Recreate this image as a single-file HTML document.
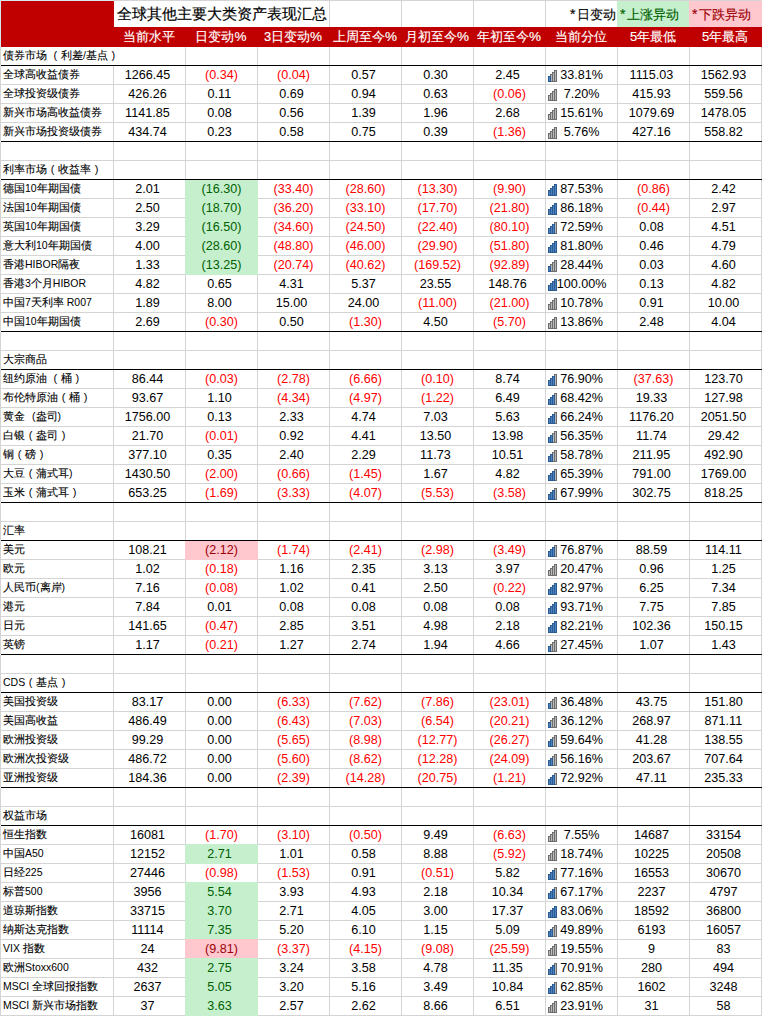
<!DOCTYPE html>
<html><head><meta charset="utf-8"><style>
html,body{margin:0;padding:0;background:#fff;}
body{width:762px;height:1016px;position:relative;overflow:hidden;font-family:"Liberation Sans",sans-serif;}
.r{position:absolute;}
.t{position:absolute;height:0;white-space:nowrap;line-height:0;}
.t .b{display:inline-block;vertical-align:baseline;line-height:0;}
.num{font-size:12.6px;color:#000;}
.name{color:#000;}
.name .c{font-size:11px;-webkit-text-stroke:0.12px currentColor;}
.name .l{font-size:10.5px;}
.head{font-size:13px;-webkit-text-stroke:0.15px currentColor;}
.pc{font-style:normal;font-size:13.5px;}
.st{font-style:normal;margin-right:1.5px;font-size:14px;}
.note{font-size:12.7px;color:#000;-webkit-text-stroke:0.15px currentColor;}
.title{font-size:14.8px;color:#000;-webkit-text-stroke:0.2px currentColor;}
.h{visibility:hidden;font-style:normal;}
.sp{display:inline-block;width:7px;}
.p{display:inline-block;width:11px;text-align:center;font-weight:normal;font-size:11px;-webkit-text-stroke:0;}
</style></head>
<body>
<div class="r" style="left:0px;top:0px;width:1px;height:1016px;background:#d4d4d4;"></div><div class="r" style="left:113px;top:0px;width:1px;height:1016px;background:#d4d4d4;"></div><div class="r" style="left:185px;top:0px;width:1px;height:1016px;background:#d4d4d4;"></div><div class="r" style="left:257px;top:0px;width:1px;height:1016px;background:#d4d4d4;"></div><div class="r" style="left:329px;top:0px;width:1px;height:1016px;background:#d4d4d4;"></div><div class="r" style="left:401px;top:0px;width:1px;height:1016px;background:#d4d4d4;"></div><div class="r" style="left:473px;top:0px;width:1px;height:1016px;background:#d4d4d4;"></div><div class="r" style="left:545px;top:0px;width:1px;height:1016px;background:#d4d4d4;"></div><div class="r" style="left:617px;top:0px;width:1px;height:1016px;background:#d4d4d4;"></div><div class="r" style="left:689px;top:0px;width:1px;height:1016px;background:#d4d4d4;"></div><div class="r" style="left:761px;top:0px;width:1px;height:1016px;background:#d4d4d4;"></div><div class="r" style="left:0px;top:0px;width:762px;height:1px;background:#d4d4d4;"></div><div class="r" style="left:0px;top:65px;width:762px;height:1px;background:#d4d4d4;"></div><div class="r" style="left:0px;top:84px;width:762px;height:1px;background:#d4d4d4;"></div><div class="r" style="left:0px;top:103px;width:762px;height:1px;background:#d4d4d4;"></div><div class="r" style="left:0px;top:122px;width:762px;height:1px;background:#d4d4d4;"></div><div class="r" style="left:0px;top:141px;width:762px;height:1px;background:#d4d4d4;"></div><div class="r" style="left:0px;top:160px;width:762px;height:1px;background:#d4d4d4;"></div><div class="r" style="left:0px;top:179px;width:762px;height:1px;background:#d4d4d4;"></div><div class="r" style="left:0px;top:198px;width:762px;height:1px;background:#d4d4d4;"></div><div class="r" style="left:0px;top:217px;width:762px;height:1px;background:#d4d4d4;"></div><div class="r" style="left:0px;top:236px;width:762px;height:1px;background:#d4d4d4;"></div><div class="r" style="left:0px;top:255px;width:762px;height:1px;background:#d4d4d4;"></div><div class="r" style="left:0px;top:274px;width:762px;height:1px;background:#d4d4d4;"></div><div class="r" style="left:0px;top:293px;width:762px;height:1px;background:#d4d4d4;"></div><div class="r" style="left:0px;top:312px;width:762px;height:1px;background:#d4d4d4;"></div><div class="r" style="left:0px;top:331px;width:762px;height:1px;background:#d4d4d4;"></div><div class="r" style="left:0px;top:350px;width:762px;height:1px;background:#d4d4d4;"></div><div class="r" style="left:0px;top:369px;width:762px;height:1px;background:#d4d4d4;"></div><div class="r" style="left:0px;top:388px;width:762px;height:1px;background:#d4d4d4;"></div><div class="r" style="left:0px;top:407px;width:762px;height:1px;background:#d4d4d4;"></div><div class="r" style="left:0px;top:426px;width:762px;height:1px;background:#d4d4d4;"></div><div class="r" style="left:0px;top:445px;width:762px;height:1px;background:#d4d4d4;"></div><div class="r" style="left:0px;top:464px;width:762px;height:1px;background:#d4d4d4;"></div><div class="r" style="left:0px;top:483px;width:762px;height:1px;background:#d4d4d4;"></div><div class="r" style="left:0px;top:502px;width:762px;height:1px;background:#d4d4d4;"></div><div class="r" style="left:0px;top:521px;width:762px;height:1px;background:#d4d4d4;"></div><div class="r" style="left:0px;top:540px;width:762px;height:1px;background:#d4d4d4;"></div><div class="r" style="left:0px;top:559px;width:762px;height:1px;background:#d4d4d4;"></div><div class="r" style="left:0px;top:578px;width:762px;height:1px;background:#d4d4d4;"></div><div class="r" style="left:0px;top:597px;width:762px;height:1px;background:#d4d4d4;"></div><div class="r" style="left:0px;top:616px;width:762px;height:1px;background:#d4d4d4;"></div><div class="r" style="left:0px;top:635px;width:762px;height:1px;background:#d4d4d4;"></div><div class="r" style="left:0px;top:654px;width:762px;height:1px;background:#d4d4d4;"></div><div class="r" style="left:0px;top:673px;width:762px;height:1px;background:#d4d4d4;"></div><div class="r" style="left:0px;top:692px;width:762px;height:1px;background:#d4d4d4;"></div><div class="r" style="left:0px;top:711px;width:762px;height:1px;background:#d4d4d4;"></div><div class="r" style="left:0px;top:730px;width:762px;height:1px;background:#d4d4d4;"></div><div class="r" style="left:0px;top:749px;width:762px;height:1px;background:#d4d4d4;"></div><div class="r" style="left:0px;top:768px;width:762px;height:1px;background:#d4d4d4;"></div><div class="r" style="left:0px;top:787px;width:762px;height:1px;background:#d4d4d4;"></div><div class="r" style="left:0px;top:806px;width:762px;height:1px;background:#d4d4d4;"></div><div class="r" style="left:0px;top:825px;width:762px;height:1px;background:#d4d4d4;"></div><div class="r" style="left:0px;top:844px;width:762px;height:1px;background:#d4d4d4;"></div><div class="r" style="left:0px;top:863px;width:762px;height:1px;background:#d4d4d4;"></div><div class="r" style="left:0px;top:882px;width:762px;height:1px;background:#d4d4d4;"></div><div class="r" style="left:0px;top:901px;width:762px;height:1px;background:#d4d4d4;"></div><div class="r" style="left:0px;top:920px;width:762px;height:1px;background:#d4d4d4;"></div><div class="r" style="left:0px;top:939px;width:762px;height:1px;background:#d4d4d4;"></div><div class="r" style="left:0px;top:958px;width:762px;height:1px;background:#d4d4d4;"></div><div class="r" style="left:0px;top:977px;width:762px;height:1px;background:#d4d4d4;"></div><div class="r" style="left:0px;top:996px;width:762px;height:1px;background:#d4d4d4;"></div><div class="r" style="left:0px;top:1015px;width:762px;height:1px;background:#d4d4d4;"></div><div class="r" style="left:0px;top:0px;width:114px;height:1px;background:#d5eaea;"></div><div class="r" style="left:0px;top:0px;width:1px;height:47px;background:#d5eaea;"></div><div class="r" style="left:1px;top:1px;width:113px;height:26px;background:#c00000;"></div><div class="r" style="left:114px;top:1px;width:215px;height:26px;background:#fff;"></div><div class="r" style="left:617px;top:1px;width:72px;height:26px;background:#c6efce;"></div><div class="r" style="left:689px;top:1px;width:73px;height:26px;background:#ffc7ce;"></div><div class="r" style="left:1px;top:27px;width:761px;height:20px;background:#c00000;"></div><div class="r" style="left:113px;top:47px;width:1px;height:18px;background:#fff;"></div><div class="r" style="left:185px;top:179px;width:73px;height:20px;background:#c6efce;"></div><div class="r" style="left:185px;top:198px;width:73px;height:20px;background:#c6efce;"></div><div class="r" style="left:185px;top:217px;width:73px;height:20px;background:#c6efce;"></div><div class="r" style="left:185px;top:236px;width:73px;height:20px;background:#c6efce;"></div><div class="r" style="left:185px;top:255px;width:73px;height:20px;background:#c6efce;"></div><div class="r" style="left:185px;top:540px;width:73px;height:20px;background:#ffc7ce;"></div><div class="r" style="left:185px;top:844px;width:73px;height:20px;background:#c6efce;"></div><div class="r" style="left:185px;top:882px;width:73px;height:20px;background:#c6efce;"></div><div class="r" style="left:185px;top:901px;width:73px;height:20px;background:#c6efce;"></div><div class="r" style="left:185px;top:920px;width:73px;height:20px;background:#c6efce;"></div><div class="r" style="left:185px;top:939px;width:73px;height:20px;background:#ffc7ce;"></div><div class="r" style="left:185px;top:958px;width:73px;height:20px;background:#c6efce;"></div><div class="r" style="left:185px;top:977px;width:73px;height:20px;background:#c6efce;"></div><div class="r" style="left:185px;top:996px;width:73px;height:20px;background:#c6efce;"></div><div class="r" style="left:1px;top:65px;width:761px;height:1px;background:#000;"></div><div class="r" style="left:0px;top:65px;width:1px;height:1px;background:#f0f0f0;"></div><div class="r" style="left:1px;top:141px;width:761px;height:1px;background:#000;"></div><div class="r" style="left:0px;top:141px;width:1px;height:1px;background:#f0f0f0;"></div><div class="r" style="left:1px;top:179px;width:761px;height:1px;background:#000;"></div><div class="r" style="left:0px;top:179px;width:1px;height:1px;background:#f0f0f0;"></div><div class="r" style="left:1px;top:331px;width:761px;height:1px;background:#000;"></div><div class="r" style="left:0px;top:331px;width:1px;height:1px;background:#f0f0f0;"></div><div class="r" style="left:1px;top:369px;width:761px;height:1px;background:#000;"></div><div class="r" style="left:0px;top:369px;width:1px;height:1px;background:#f0f0f0;"></div><div class="r" style="left:1px;top:502px;width:761px;height:1px;background:#000;"></div><div class="r" style="left:0px;top:502px;width:1px;height:1px;background:#f0f0f0;"></div><div class="r" style="left:1px;top:540px;width:761px;height:1px;background:#000;"></div><div class="r" style="left:0px;top:540px;width:1px;height:1px;background:#f0f0f0;"></div><div class="r" style="left:1px;top:654px;width:761px;height:1px;background:#000;"></div><div class="r" style="left:0px;top:654px;width:1px;height:1px;background:#f0f0f0;"></div><div class="r" style="left:1px;top:692px;width:761px;height:1px;background:#000;"></div><div class="r" style="left:0px;top:692px;width:1px;height:1px;background:#f0f0f0;"></div><div class="r" style="left:1px;top:787px;width:761px;height:1px;background:#000;"></div><div class="r" style="left:0px;top:787px;width:1px;height:1px;background:#f0f0f0;"></div><div class="r" style="left:1px;top:825px;width:761px;height:1px;background:#000;"></div><div class="r" style="left:0px;top:825px;width:1px;height:1px;background:#f0f0f0;"></div><div class="t title" style="left:117px;width:300px;top:14px;text-align:left;"><span class="b">全球其他主要大类资产表现汇总</span></div><div class="t note" style="left:546px;width:70px;top:14px;text-align:right;"><span class="b"><i class="st">*</i>日变动</span></div><div class="t note" style="left:620px;width:70px;top:14px;text-align:left;color:#006100;"><span class="b"><i class="st">*</i>上涨异动</span></div><div class="t note" style="left:692px;width:70px;top:14px;text-align:left;color:#9c0006;"><span class="b"><i class="st">*</i>下跌异动</span></div><div class="t head" style="left:113px;width:72px;top:37px;text-align:center;color:#fff;"><span class="b">当前水平</span></div><div class="t head" style="left:185px;width:72px;top:37px;text-align:center;color:#fff;"><span class="b">日变动<i class="pc">%</i></span></div><div class="t head" style="left:257px;width:72px;top:37px;text-align:center;color:#fff;"><span class="b">3日变动<i class="pc">%</i></span></div><div class="t head" style="left:329px;width:72px;top:37px;text-align:center;color:#fff;"><span class="b">上周至今<i class="pc">%</i></span></div><div class="t head" style="left:401px;width:72px;top:37px;text-align:center;color:#fff;"><span class="b">月初至今<i class="pc">%</i></span></div><div class="t head" style="left:473px;width:72px;top:37px;text-align:center;color:#fff;"><span class="b">年初至今<i class="pc">%</i></span></div><div class="t head" style="left:545px;width:72px;top:37px;text-align:center;color:#fff;"><span class="b">当前分位</span></div><div class="t head" style="left:617px;width:72px;top:37px;text-align:center;color:#fff;"><span class="b">5年最低</span></div><div class="t head" style="left:689px;width:72px;top:37px;text-align:center;color:#fff;"><span class="b">5年最高</span></div><div class="t name" style="left:3px;width:300px;top:54px;text-align:left;"><span class="b"><span class="c">债券市场</span><span class="l"> </span><span class="c"><b class="p">(</b>利差</span><span class="l">/</span><span class="c">基点<b class="p">)</b></span></span></div><div class="t name" style="left:3px;width:300px;top:73px;text-align:left;"><span class="b"><span class="c">全球高收益债券</span></span></div><div class="t num" style="left:114px;width:71px;top:75px;text-align:center;"><span class="b">1266.45<i class="h">)</i></span></div><div class="t num" style="left:186px;width:71px;top:75px;text-align:center;color:#ff0000;"><span class="b">(0.34)</span></div><div class="t num" style="left:258px;width:71px;top:75px;text-align:center;color:#ff0000;"><span class="b">(0.04)</span></div><div class="t num" style="left:330px;width:71px;top:75px;text-align:center;"><span class="b">0.57<i class="h">)</i></span></div><div class="t num" style="left:402px;width:71px;top:75px;text-align:center;"><span class="b">0.30<i class="h">)</i></span></div><div class="t num" style="left:474px;width:71px;top:75px;text-align:center;"><span class="b">2.45<i class="h">)</i></span></div><div class="t num" style="left:546px;width:71px;top:75px;text-align:center;"><span class="b">33.81%</span></div><div class="r" style="left:550px;top:74px;width:3px;height:8px;background:#6d6d6d"></div><div class="r" style="left:552px;top:72px;width:3px;height:10px;background:#6d6d6d"></div><div class="r" style="left:554px;top:70px;width:3px;height:12px;background:#6d6d6d"></div><div class="r" style="left:548px;top:76px;width:3px;height:6px;background:#2a5b92"></div><div class="r" style="left:549px;top:77px;width:1px;height:4px;background:#4f83bf"></div><div class="r" style="left:551px;top:75px;width:1px;height:6px;background:#b9b9b9"></div><div class="r" style="left:553px;top:73px;width:1px;height:8px;background:#b9b9b9"></div><div class="r" style="left:555px;top:71px;width:1px;height:10px;background:#b9b9b9"></div><div class="t num" style="left:618px;width:71px;top:75px;text-align:center;"><span class="b">1115.03<i class="h">)</i></span></div><div class="t num" style="left:690px;width:71px;top:75px;text-align:center;"><span class="b">1562.93<i class="h">)</i></span></div><div class="t name" style="left:3px;width:300px;top:92px;text-align:left;"><span class="b"><span class="c">全球投资级债券</span></span></div><div class="t num" style="left:114px;width:71px;top:94px;text-align:center;"><span class="b">426.26<i class="h">)</i></span></div><div class="t num" style="left:186px;width:71px;top:94px;text-align:center;"><span class="b">0.11<i class="h">)</i></span></div><div class="t num" style="left:258px;width:71px;top:94px;text-align:center;"><span class="b">0.69<i class="h">)</i></span></div><div class="t num" style="left:330px;width:71px;top:94px;text-align:center;"><span class="b">0.94<i class="h">)</i></span></div><div class="t num" style="left:402px;width:71px;top:94px;text-align:center;"><span class="b">0.63<i class="h">)</i></span></div><div class="t num" style="left:474px;width:71px;top:94px;text-align:center;color:#ff0000;"><span class="b">(0.06)</span></div><div class="t num" style="left:546px;width:71px;top:94px;text-align:center;"><span class="b">7.20%</span></div><div class="r" style="left:548px;top:95px;width:3px;height:6px;background:#6d6d6d"></div><div class="r" style="left:550px;top:93px;width:3px;height:8px;background:#6d6d6d"></div><div class="r" style="left:552px;top:91px;width:3px;height:10px;background:#6d6d6d"></div><div class="r" style="left:554px;top:89px;width:3px;height:12px;background:#6d6d6d"></div><div class="r" style="left:549px;top:96px;width:1px;height:4px;background:#b9b9b9"></div><div class="r" style="left:551px;top:94px;width:1px;height:6px;background:#b9b9b9"></div><div class="r" style="left:553px;top:92px;width:1px;height:8px;background:#b9b9b9"></div><div class="r" style="left:555px;top:90px;width:1px;height:10px;background:#b9b9b9"></div><div class="t num" style="left:618px;width:71px;top:94px;text-align:center;"><span class="b">415.93<i class="h">)</i></span></div><div class="t num" style="left:690px;width:71px;top:94px;text-align:center;"><span class="b">559.56<i class="h">)</i></span></div><div class="t name" style="left:3px;width:300px;top:111px;text-align:left;"><span class="b"><span class="c">新兴市场高收益债券</span></span></div><div class="t num" style="left:114px;width:71px;top:113px;text-align:center;"><span class="b">1141.85<i class="h">)</i></span></div><div class="t num" style="left:186px;width:71px;top:113px;text-align:center;"><span class="b">0.08<i class="h">)</i></span></div><div class="t num" style="left:258px;width:71px;top:113px;text-align:center;"><span class="b">0.56<i class="h">)</i></span></div><div class="t num" style="left:330px;width:71px;top:113px;text-align:center;"><span class="b">1.39<i class="h">)</i></span></div><div class="t num" style="left:402px;width:71px;top:113px;text-align:center;"><span class="b">1.96<i class="h">)</i></span></div><div class="t num" style="left:474px;width:71px;top:113px;text-align:center;"><span class="b">2.68<i class="h">)</i></span></div><div class="t num" style="left:546px;width:71px;top:113px;text-align:center;"><span class="b">15.61%</span></div><div class="r" style="left:548px;top:114px;width:3px;height:6px;background:#6d6d6d"></div><div class="r" style="left:550px;top:112px;width:3px;height:8px;background:#6d6d6d"></div><div class="r" style="left:552px;top:110px;width:3px;height:10px;background:#6d6d6d"></div><div class="r" style="left:554px;top:108px;width:3px;height:12px;background:#6d6d6d"></div><div class="r" style="left:549px;top:115px;width:1px;height:4px;background:#b9b9b9"></div><div class="r" style="left:551px;top:113px;width:1px;height:6px;background:#b9b9b9"></div><div class="r" style="left:553px;top:111px;width:1px;height:8px;background:#b9b9b9"></div><div class="r" style="left:555px;top:109px;width:1px;height:10px;background:#b9b9b9"></div><div class="t num" style="left:618px;width:71px;top:113px;text-align:center;"><span class="b">1079.69<i class="h">)</i></span></div><div class="t num" style="left:690px;width:71px;top:113px;text-align:center;"><span class="b">1478.05<i class="h">)</i></span></div><div class="t name" style="left:3px;width:300px;top:130px;text-align:left;"><span class="b"><span class="c">新兴市场投资级债券</span></span></div><div class="t num" style="left:114px;width:71px;top:132px;text-align:center;"><span class="b">434.74<i class="h">)</i></span></div><div class="t num" style="left:186px;width:71px;top:132px;text-align:center;"><span class="b">0.23<i class="h">)</i></span></div><div class="t num" style="left:258px;width:71px;top:132px;text-align:center;"><span class="b">0.58<i class="h">)</i></span></div><div class="t num" style="left:330px;width:71px;top:132px;text-align:center;"><span class="b">0.75<i class="h">)</i></span></div><div class="t num" style="left:402px;width:71px;top:132px;text-align:center;"><span class="b">0.39<i class="h">)</i></span></div><div class="t num" style="left:474px;width:71px;top:132px;text-align:center;color:#ff0000;"><span class="b">(1.36)</span></div><div class="t num" style="left:546px;width:71px;top:132px;text-align:center;"><span class="b">5.76%</span></div><div class="r" style="left:548px;top:133px;width:3px;height:6px;background:#6d6d6d"></div><div class="r" style="left:550px;top:131px;width:3px;height:8px;background:#6d6d6d"></div><div class="r" style="left:552px;top:129px;width:3px;height:10px;background:#6d6d6d"></div><div class="r" style="left:554px;top:127px;width:3px;height:12px;background:#6d6d6d"></div><div class="r" style="left:549px;top:134px;width:1px;height:4px;background:#b9b9b9"></div><div class="r" style="left:551px;top:132px;width:1px;height:6px;background:#b9b9b9"></div><div class="r" style="left:553px;top:130px;width:1px;height:8px;background:#b9b9b9"></div><div class="r" style="left:555px;top:128px;width:1px;height:10px;background:#b9b9b9"></div><div class="t num" style="left:618px;width:71px;top:132px;text-align:center;"><span class="b">427.16<i class="h">)</i></span></div><div class="t num" style="left:690px;width:71px;top:132px;text-align:center;"><span class="b">558.82<i class="h">)</i></span></div><div class="t name" style="left:3px;width:300px;top:168px;text-align:left;"><span class="b"><span class="c">利率市场<b class="p">(</b>收益率<b class="p">)</b></span></span></div><div class="t name" style="left:3px;width:300px;top:187px;text-align:left;"><span class="b"><span class="c">德国</span><span class="l">10</span><span class="c">年期国债</span></span></div><div class="t num" style="left:114px;width:71px;top:189px;text-align:center;"><span class="b">2.01<i class="h">)</i></span></div><div class="t num" style="left:186px;width:71px;top:189px;text-align:center;color:#006100;"><span class="b">(16.30)</span></div><div class="t num" style="left:258px;width:71px;top:189px;text-align:center;color:#ff0000;"><span class="b">(33.40)</span></div><div class="t num" style="left:330px;width:71px;top:189px;text-align:center;color:#ff0000;"><span class="b">(28.60)</span></div><div class="t num" style="left:402px;width:71px;top:189px;text-align:center;color:#ff0000;"><span class="b">(13.30)</span></div><div class="t num" style="left:474px;width:71px;top:189px;text-align:center;color:#ff0000;"><span class="b">(9.90)</span></div><div class="t num" style="left:546px;width:71px;top:189px;text-align:center;"><span class="b">87.53%</span></div><div class="r" style="left:548px;top:190px;width:3px;height:6px;background:#2a5b92"></div><div class="r" style="left:550px;top:188px;width:3px;height:8px;background:#2a5b92"></div><div class="r" style="left:552px;top:186px;width:3px;height:10px;background:#2a5b92"></div><div class="r" style="left:554px;top:184px;width:3px;height:12px;background:#2a5b92"></div><div class="r" style="left:549px;top:191px;width:1px;height:4px;background:#4f83bf"></div><div class="r" style="left:551px;top:189px;width:1px;height:6px;background:#4f83bf"></div><div class="r" style="left:553px;top:187px;width:1px;height:8px;background:#4f83bf"></div><div class="r" style="left:555px;top:185px;width:1px;height:10px;background:#4f83bf"></div><div class="t num" style="left:618px;width:71px;top:189px;text-align:center;color:#ff0000;"><span class="b">(0.86)</span></div><div class="t num" style="left:690px;width:71px;top:189px;text-align:center;"><span class="b">2.42<i class="h">)</i></span></div><div class="t name" style="left:3px;width:300px;top:206px;text-align:left;"><span class="b"><span class="c">法国</span><span class="l">10</span><span class="c">年期国债</span></span></div><div class="t num" style="left:114px;width:71px;top:208px;text-align:center;"><span class="b">2.50<i class="h">)</i></span></div><div class="t num" style="left:186px;width:71px;top:208px;text-align:center;color:#006100;"><span class="b">(18.70)</span></div><div class="t num" style="left:258px;width:71px;top:208px;text-align:center;color:#ff0000;"><span class="b">(36.20)</span></div><div class="t num" style="left:330px;width:71px;top:208px;text-align:center;color:#ff0000;"><span class="b">(33.10)</span></div><div class="t num" style="left:402px;width:71px;top:208px;text-align:center;color:#ff0000;"><span class="b">(17.70)</span></div><div class="t num" style="left:474px;width:71px;top:208px;text-align:center;color:#ff0000;"><span class="b">(21.80)</span></div><div class="t num" style="left:546px;width:71px;top:208px;text-align:center;"><span class="b">86.18%</span></div><div class="r" style="left:548px;top:209px;width:3px;height:6px;background:#2a5b92"></div><div class="r" style="left:550px;top:207px;width:3px;height:8px;background:#2a5b92"></div><div class="r" style="left:552px;top:205px;width:3px;height:10px;background:#2a5b92"></div><div class="r" style="left:554px;top:203px;width:3px;height:12px;background:#2a5b92"></div><div class="r" style="left:549px;top:210px;width:1px;height:4px;background:#4f83bf"></div><div class="r" style="left:551px;top:208px;width:1px;height:6px;background:#4f83bf"></div><div class="r" style="left:553px;top:206px;width:1px;height:8px;background:#4f83bf"></div><div class="r" style="left:555px;top:204px;width:1px;height:10px;background:#4f83bf"></div><div class="t num" style="left:618px;width:71px;top:208px;text-align:center;color:#ff0000;"><span class="b">(0.44)</span></div><div class="t num" style="left:690px;width:71px;top:208px;text-align:center;"><span class="b">2.97<i class="h">)</i></span></div><div class="t name" style="left:3px;width:300px;top:225px;text-align:left;"><span class="b"><span class="c">英国</span><span class="l">10</span><span class="c">年期国债</span></span></div><div class="t num" style="left:114px;width:71px;top:227px;text-align:center;"><span class="b">3.29<i class="h">)</i></span></div><div class="t num" style="left:186px;width:71px;top:227px;text-align:center;color:#006100;"><span class="b">(16.50)</span></div><div class="t num" style="left:258px;width:71px;top:227px;text-align:center;color:#ff0000;"><span class="b">(34.60)</span></div><div class="t num" style="left:330px;width:71px;top:227px;text-align:center;color:#ff0000;"><span class="b">(24.50)</span></div><div class="t num" style="left:402px;width:71px;top:227px;text-align:center;color:#ff0000;"><span class="b">(22.40)</span></div><div class="t num" style="left:474px;width:71px;top:227px;text-align:center;color:#ff0000;"><span class="b">(80.10)</span></div><div class="t num" style="left:546px;width:71px;top:227px;text-align:center;"><span class="b">72.59%</span></div><div class="r" style="left:554px;top:222px;width:3px;height:12px;background:#6d6d6d"></div><div class="r" style="left:548px;top:228px;width:3px;height:6px;background:#2a5b92"></div><div class="r" style="left:550px;top:226px;width:3px;height:8px;background:#2a5b92"></div><div class="r" style="left:552px;top:224px;width:3px;height:10px;background:#2a5b92"></div><div class="r" style="left:549px;top:229px;width:1px;height:4px;background:#4f83bf"></div><div class="r" style="left:551px;top:227px;width:1px;height:6px;background:#4f83bf"></div><div class="r" style="left:553px;top:225px;width:1px;height:8px;background:#4f83bf"></div><div class="r" style="left:555px;top:223px;width:1px;height:10px;background:#b9b9b9"></div><div class="t num" style="left:618px;width:71px;top:227px;text-align:center;"><span class="b">0.08<i class="h">)</i></span></div><div class="t num" style="left:690px;width:71px;top:227px;text-align:center;"><span class="b">4.51<i class="h">)</i></span></div><div class="t name" style="left:3px;width:300px;top:244px;text-align:left;"><span class="b"><span class="c">意大利</span><span class="l">10</span><span class="c">年期国债</span></span></div><div class="t num" style="left:114px;width:71px;top:246px;text-align:center;"><span class="b">4.00<i class="h">)</i></span></div><div class="t num" style="left:186px;width:71px;top:246px;text-align:center;color:#006100;"><span class="b">(28.60)</span></div><div class="t num" style="left:258px;width:71px;top:246px;text-align:center;color:#ff0000;"><span class="b">(48.80)</span></div><div class="t num" style="left:330px;width:71px;top:246px;text-align:center;color:#ff0000;"><span class="b">(46.00)</span></div><div class="t num" style="left:402px;width:71px;top:246px;text-align:center;color:#ff0000;"><span class="b">(29.90)</span></div><div class="t num" style="left:474px;width:71px;top:246px;text-align:center;color:#ff0000;"><span class="b">(51.80)</span></div><div class="t num" style="left:546px;width:71px;top:246px;text-align:center;"><span class="b">81.80%</span></div><div class="r" style="left:548px;top:247px;width:3px;height:6px;background:#2a5b92"></div><div class="r" style="left:550px;top:245px;width:3px;height:8px;background:#2a5b92"></div><div class="r" style="left:552px;top:243px;width:3px;height:10px;background:#2a5b92"></div><div class="r" style="left:554px;top:241px;width:3px;height:12px;background:#2a5b92"></div><div class="r" style="left:549px;top:248px;width:1px;height:4px;background:#4f83bf"></div><div class="r" style="left:551px;top:246px;width:1px;height:6px;background:#4f83bf"></div><div class="r" style="left:553px;top:244px;width:1px;height:8px;background:#4f83bf"></div><div class="r" style="left:555px;top:242px;width:1px;height:10px;background:#4f83bf"></div><div class="t num" style="left:618px;width:71px;top:246px;text-align:center;"><span class="b">0.46<i class="h">)</i></span></div><div class="t num" style="left:690px;width:71px;top:246px;text-align:center;"><span class="b">4.79<i class="h">)</i></span></div><div class="t name" style="left:3px;width:300px;top:263px;text-align:left;"><span class="b"><span class="c">香港</span><span class="l">HIBOR</span><span class="c">隔夜</span></span></div><div class="t num" style="left:114px;width:71px;top:265px;text-align:center;"><span class="b">1.33<i class="h">)</i></span></div><div class="t num" style="left:186px;width:71px;top:265px;text-align:center;color:#006100;"><span class="b">(13.25)</span></div><div class="t num" style="left:258px;width:71px;top:265px;text-align:center;color:#ff0000;"><span class="b">(20.74)</span></div><div class="t num" style="left:330px;width:71px;top:265px;text-align:center;color:#ff0000;"><span class="b">(40.62)</span></div><div class="t num" style="left:402px;width:71px;top:265px;text-align:center;color:#ff0000;"><span class="b">(169.52)</span></div><div class="t num" style="left:474px;width:71px;top:265px;text-align:center;color:#ff0000;"><span class="b">(92.89)</span></div><div class="t num" style="left:546px;width:71px;top:265px;text-align:center;"><span class="b">28.44%</span></div><div class="r" style="left:550px;top:264px;width:3px;height:8px;background:#6d6d6d"></div><div class="r" style="left:552px;top:262px;width:3px;height:10px;background:#6d6d6d"></div><div class="r" style="left:554px;top:260px;width:3px;height:12px;background:#6d6d6d"></div><div class="r" style="left:548px;top:266px;width:3px;height:6px;background:#2a5b92"></div><div class="r" style="left:549px;top:267px;width:1px;height:4px;background:#4f83bf"></div><div class="r" style="left:551px;top:265px;width:1px;height:6px;background:#b9b9b9"></div><div class="r" style="left:553px;top:263px;width:1px;height:8px;background:#b9b9b9"></div><div class="r" style="left:555px;top:261px;width:1px;height:10px;background:#b9b9b9"></div><div class="t num" style="left:618px;width:71px;top:265px;text-align:center;"><span class="b">0.03<i class="h">)</i></span></div><div class="t num" style="left:690px;width:71px;top:265px;text-align:center;"><span class="b">4.60<i class="h">)</i></span></div><div class="t name" style="left:3px;width:300px;top:282px;text-align:left;"><span class="b"><span class="c">香港</span><span class="l">3</span><span class="c">个月</span><span class="l">HIBOR</span></span></div><div class="t num" style="left:114px;width:71px;top:284px;text-align:center;"><span class="b">4.82<i class="h">)</i></span></div><div class="t num" style="left:186px;width:71px;top:284px;text-align:center;"><span class="b">0.65<i class="h">)</i></span></div><div class="t num" style="left:258px;width:71px;top:284px;text-align:center;"><span class="b">4.31<i class="h">)</i></span></div><div class="t num" style="left:330px;width:71px;top:284px;text-align:center;"><span class="b">5.37<i class="h">)</i></span></div><div class="t num" style="left:402px;width:71px;top:284px;text-align:center;"><span class="b">23.55<i class="h">)</i></span></div><div class="t num" style="left:474px;width:71px;top:284px;text-align:center;"><span class="b">148.76<i class="h">)</i></span></div><div class="t num" style="left:546px;width:71px;top:284px;text-align:center;"><span class="b">100.00%</span></div><div class="r" style="left:548px;top:285px;width:3px;height:6px;background:#2a5b92"></div><div class="r" style="left:550px;top:283px;width:3px;height:8px;background:#2a5b92"></div><div class="r" style="left:552px;top:281px;width:3px;height:10px;background:#2a5b92"></div><div class="r" style="left:554px;top:279px;width:3px;height:12px;background:#2a5b92"></div><div class="r" style="left:549px;top:286px;width:1px;height:4px;background:#4f83bf"></div><div class="r" style="left:551px;top:284px;width:1px;height:6px;background:#4f83bf"></div><div class="r" style="left:553px;top:282px;width:1px;height:8px;background:#4f83bf"></div><div class="r" style="left:555px;top:280px;width:1px;height:10px;background:#4f83bf"></div><div class="t num" style="left:618px;width:71px;top:284px;text-align:center;"><span class="b">0.13<i class="h">)</i></span></div><div class="t num" style="left:690px;width:71px;top:284px;text-align:center;"><span class="b">4.82<i class="h">)</i></span></div><div class="t name" style="left:3px;width:300px;top:301px;text-align:left;"><span class="b"><span class="c">中国</span><span class="l">7</span><span class="c">天利率</span><span class="l"> R007</span></span></div><div class="t num" style="left:114px;width:71px;top:303px;text-align:center;"><span class="b">1.89<i class="h">)</i></span></div><div class="t num" style="left:186px;width:71px;top:303px;text-align:center;"><span class="b">8.00<i class="h">)</i></span></div><div class="t num" style="left:258px;width:71px;top:303px;text-align:center;"><span class="b">15.00<i class="h">)</i></span></div><div class="t num" style="left:330px;width:71px;top:303px;text-align:center;"><span class="b">24.00<i class="h">)</i></span></div><div class="t num" style="left:402px;width:71px;top:303px;text-align:center;color:#ff0000;"><span class="b">(11.00)</span></div><div class="t num" style="left:474px;width:71px;top:303px;text-align:center;color:#ff0000;"><span class="b">(21.00)</span></div><div class="t num" style="left:546px;width:71px;top:303px;text-align:center;"><span class="b">10.78%</span></div><div class="r" style="left:548px;top:304px;width:3px;height:6px;background:#6d6d6d"></div><div class="r" style="left:550px;top:302px;width:3px;height:8px;background:#6d6d6d"></div><div class="r" style="left:552px;top:300px;width:3px;height:10px;background:#6d6d6d"></div><div class="r" style="left:554px;top:298px;width:3px;height:12px;background:#6d6d6d"></div><div class="r" style="left:549px;top:305px;width:1px;height:4px;background:#b9b9b9"></div><div class="r" style="left:551px;top:303px;width:1px;height:6px;background:#b9b9b9"></div><div class="r" style="left:553px;top:301px;width:1px;height:8px;background:#b9b9b9"></div><div class="r" style="left:555px;top:299px;width:1px;height:10px;background:#b9b9b9"></div><div class="t num" style="left:618px;width:71px;top:303px;text-align:center;"><span class="b">0.91<i class="h">)</i></span></div><div class="t num" style="left:690px;width:71px;top:303px;text-align:center;"><span class="b">10.00<i class="h">)</i></span></div><div class="t name" style="left:3px;width:300px;top:320px;text-align:left;"><span class="b"><span class="c">中国</span><span class="l">10</span><span class="c">年期国债</span></span></div><div class="t num" style="left:114px;width:71px;top:322px;text-align:center;"><span class="b">2.69<i class="h">)</i></span></div><div class="t num" style="left:186px;width:71px;top:322px;text-align:center;color:#ff0000;"><span class="b">(0.30)</span></div><div class="t num" style="left:258px;width:71px;top:322px;text-align:center;"><span class="b">0.50<i class="h">)</i></span></div><div class="t num" style="left:330px;width:71px;top:322px;text-align:center;color:#ff0000;"><span class="b">(1.30)</span></div><div class="t num" style="left:402px;width:71px;top:322px;text-align:center;"><span class="b">4.50<i class="h">)</i></span></div><div class="t num" style="left:474px;width:71px;top:322px;text-align:center;color:#ff0000;"><span class="b">(5.70)</span></div><div class="t num" style="left:546px;width:71px;top:322px;text-align:center;"><span class="b">13.86%</span></div><div class="r" style="left:548px;top:323px;width:3px;height:6px;background:#6d6d6d"></div><div class="r" style="left:550px;top:321px;width:3px;height:8px;background:#6d6d6d"></div><div class="r" style="left:552px;top:319px;width:3px;height:10px;background:#6d6d6d"></div><div class="r" style="left:554px;top:317px;width:3px;height:12px;background:#6d6d6d"></div><div class="r" style="left:549px;top:324px;width:1px;height:4px;background:#b9b9b9"></div><div class="r" style="left:551px;top:322px;width:1px;height:6px;background:#b9b9b9"></div><div class="r" style="left:553px;top:320px;width:1px;height:8px;background:#b9b9b9"></div><div class="r" style="left:555px;top:318px;width:1px;height:10px;background:#b9b9b9"></div><div class="t num" style="left:618px;width:71px;top:322px;text-align:center;"><span class="b">2.48<i class="h">)</i></span></div><div class="t num" style="left:690px;width:71px;top:322px;text-align:center;"><span class="b">4.04<i class="h">)</i></span></div><div class="t name" style="left:3px;width:300px;top:358px;text-align:left;"><span class="b"><span class="c">大宗商品</span></span></div><div class="t name" style="left:3px;width:300px;top:377px;text-align:left;"><span class="b"><span class="c">纽约原油</span><span class="l"> </span><span class="c"><b class="p">(</b>桶<b class="p">)</b></span></span></div><div class="t num" style="left:114px;width:71px;top:379px;text-align:center;"><span class="b">86.44<i class="h">)</i></span></div><div class="t num" style="left:186px;width:71px;top:379px;text-align:center;color:#ff0000;"><span class="b">(0.03)</span></div><div class="t num" style="left:258px;width:71px;top:379px;text-align:center;color:#ff0000;"><span class="b">(2.78)</span></div><div class="t num" style="left:330px;width:71px;top:379px;text-align:center;color:#ff0000;"><span class="b">(6.66)</span></div><div class="t num" style="left:402px;width:71px;top:379px;text-align:center;color:#ff0000;"><span class="b">(0.10)</span></div><div class="t num" style="left:474px;width:71px;top:379px;text-align:center;"><span class="b">8.74<i class="h">)</i></span></div><div class="t num" style="left:546px;width:71px;top:379px;text-align:center;"><span class="b">76.90%</span></div><div class="r" style="left:554px;top:374px;width:3px;height:12px;background:#6d6d6d"></div><div class="r" style="left:548px;top:380px;width:3px;height:6px;background:#2a5b92"></div><div class="r" style="left:550px;top:378px;width:3px;height:8px;background:#2a5b92"></div><div class="r" style="left:552px;top:376px;width:3px;height:10px;background:#2a5b92"></div><div class="r" style="left:549px;top:381px;width:1px;height:4px;background:#4f83bf"></div><div class="r" style="left:551px;top:379px;width:1px;height:6px;background:#4f83bf"></div><div class="r" style="left:553px;top:377px;width:1px;height:8px;background:#4f83bf"></div><div class="r" style="left:555px;top:375px;width:1px;height:10px;background:#b9b9b9"></div><div class="t num" style="left:618px;width:71px;top:379px;text-align:center;color:#ff0000;"><span class="b">(37.63)</span></div><div class="t num" style="left:690px;width:71px;top:379px;text-align:center;"><span class="b">123.70<i class="h">)</i></span></div><div class="t name" style="left:3px;width:300px;top:396px;text-align:left;"><span class="b"><span class="c">布伦特原油<b class="p">(</b>桶<b class="p">)</b></span></span></div><div class="t num" style="left:114px;width:71px;top:398px;text-align:center;"><span class="b">93.67<i class="h">)</i></span></div><div class="t num" style="left:186px;width:71px;top:398px;text-align:center;"><span class="b">1.10<i class="h">)</i></span></div><div class="t num" style="left:258px;width:71px;top:398px;text-align:center;color:#ff0000;"><span class="b">(4.34)</span></div><div class="t num" style="left:330px;width:71px;top:398px;text-align:center;color:#ff0000;"><span class="b">(4.97)</span></div><div class="t num" style="left:402px;width:71px;top:398px;text-align:center;color:#ff0000;"><span class="b">(1.22)</span></div><div class="t num" style="left:474px;width:71px;top:398px;text-align:center;"><span class="b">6.49<i class="h">)</i></span></div><div class="t num" style="left:546px;width:71px;top:398px;text-align:center;"><span class="b">68.42%</span></div><div class="r" style="left:554px;top:393px;width:3px;height:12px;background:#6d6d6d"></div><div class="r" style="left:548px;top:399px;width:3px;height:6px;background:#2a5b92"></div><div class="r" style="left:550px;top:397px;width:3px;height:8px;background:#2a5b92"></div><div class="r" style="left:552px;top:395px;width:3px;height:10px;background:#2a5b92"></div><div class="r" style="left:549px;top:400px;width:1px;height:4px;background:#4f83bf"></div><div class="r" style="left:551px;top:398px;width:1px;height:6px;background:#4f83bf"></div><div class="r" style="left:553px;top:396px;width:1px;height:8px;background:#4f83bf"></div><div class="r" style="left:555px;top:394px;width:1px;height:10px;background:#b9b9b9"></div><div class="t num" style="left:618px;width:71px;top:398px;text-align:center;"><span class="b">19.33<i class="h">)</i></span></div><div class="t num" style="left:690px;width:71px;top:398px;text-align:center;"><span class="b">127.98<i class="h">)</i></span></div><div class="t name" style="left:3px;width:300px;top:415px;text-align:left;"><span class="b"><span class="c">黄金</span><span class="l"><i class="sp"></i>(</span><span class="c">盎司</span><span class="l">)</span></span></div><div class="t num" style="left:114px;width:71px;top:417px;text-align:center;"><span class="b">1756.00<i class="h">)</i></span></div><div class="t num" style="left:186px;width:71px;top:417px;text-align:center;"><span class="b">0.13<i class="h">)</i></span></div><div class="t num" style="left:258px;width:71px;top:417px;text-align:center;"><span class="b">2.33<i class="h">)</i></span></div><div class="t num" style="left:330px;width:71px;top:417px;text-align:center;"><span class="b">4.74<i class="h">)</i></span></div><div class="t num" style="left:402px;width:71px;top:417px;text-align:center;"><span class="b">7.03<i class="h">)</i></span></div><div class="t num" style="left:474px;width:71px;top:417px;text-align:center;"><span class="b">5.63<i class="h">)</i></span></div><div class="t num" style="left:546px;width:71px;top:417px;text-align:center;"><span class="b">66.24%</span></div><div class="r" style="left:554px;top:412px;width:3px;height:12px;background:#6d6d6d"></div><div class="r" style="left:548px;top:418px;width:3px;height:6px;background:#2a5b92"></div><div class="r" style="left:550px;top:416px;width:3px;height:8px;background:#2a5b92"></div><div class="r" style="left:552px;top:414px;width:3px;height:10px;background:#2a5b92"></div><div class="r" style="left:549px;top:419px;width:1px;height:4px;background:#4f83bf"></div><div class="r" style="left:551px;top:417px;width:1px;height:6px;background:#4f83bf"></div><div class="r" style="left:553px;top:415px;width:1px;height:8px;background:#4f83bf"></div><div class="r" style="left:555px;top:413px;width:1px;height:10px;background:#b9b9b9"></div><div class="t num" style="left:618px;width:71px;top:417px;text-align:center;"><span class="b">1176.20<i class="h">)</i></span></div><div class="t num" style="left:690px;width:71px;top:417px;text-align:center;"><span class="b">2051.50<i class="h">)</i></span></div><div class="t name" style="left:3px;width:300px;top:434px;text-align:left;"><span class="b"><span class="c">白银<b class="p">(</b>盎司<b class="p">)</b></span></span></div><div class="t num" style="left:114px;width:71px;top:436px;text-align:center;"><span class="b">21.70<i class="h">)</i></span></div><div class="t num" style="left:186px;width:71px;top:436px;text-align:center;color:#ff0000;"><span class="b">(0.01)</span></div><div class="t num" style="left:258px;width:71px;top:436px;text-align:center;"><span class="b">0.92<i class="h">)</i></span></div><div class="t num" style="left:330px;width:71px;top:436px;text-align:center;"><span class="b">4.41<i class="h">)</i></span></div><div class="t num" style="left:402px;width:71px;top:436px;text-align:center;"><span class="b">13.50<i class="h">)</i></span></div><div class="t num" style="left:474px;width:71px;top:436px;text-align:center;"><span class="b">13.98<i class="h">)</i></span></div><div class="t num" style="left:546px;width:71px;top:436px;text-align:center;"><span class="b">56.35%</span></div><div class="r" style="left:552px;top:433px;width:3px;height:10px;background:#6d6d6d"></div><div class="r" style="left:554px;top:431px;width:3px;height:12px;background:#6d6d6d"></div><div class="r" style="left:548px;top:437px;width:3px;height:6px;background:#2a5b92"></div><div class="r" style="left:550px;top:435px;width:3px;height:8px;background:#2a5b92"></div><div class="r" style="left:549px;top:438px;width:1px;height:4px;background:#4f83bf"></div><div class="r" style="left:551px;top:436px;width:1px;height:6px;background:#4f83bf"></div><div class="r" style="left:553px;top:434px;width:1px;height:8px;background:#b9b9b9"></div><div class="r" style="left:555px;top:432px;width:1px;height:10px;background:#b9b9b9"></div><div class="t num" style="left:618px;width:71px;top:436px;text-align:center;"><span class="b">11.74<i class="h">)</i></span></div><div class="t num" style="left:690px;width:71px;top:436px;text-align:center;"><span class="b">29.42<i class="h">)</i></span></div><div class="t name" style="left:3px;width:300px;top:453px;text-align:left;"><span class="b"><span class="c">铜<b class="p">(</b>磅<b class="p">)</b></span></span></div><div class="t num" style="left:114px;width:71px;top:455px;text-align:center;"><span class="b">377.10<i class="h">)</i></span></div><div class="t num" style="left:186px;width:71px;top:455px;text-align:center;"><span class="b">0.35<i class="h">)</i></span></div><div class="t num" style="left:258px;width:71px;top:455px;text-align:center;"><span class="b">2.40<i class="h">)</i></span></div><div class="t num" style="left:330px;width:71px;top:455px;text-align:center;"><span class="b">2.29<i class="h">)</i></span></div><div class="t num" style="left:402px;width:71px;top:455px;text-align:center;"><span class="b">11.73<i class="h">)</i></span></div><div class="t num" style="left:474px;width:71px;top:455px;text-align:center;"><span class="b">10.51<i class="h">)</i></span></div><div class="t num" style="left:546px;width:71px;top:455px;text-align:center;"><span class="b">58.78%</span></div><div class="r" style="left:552px;top:452px;width:3px;height:10px;background:#6d6d6d"></div><div class="r" style="left:554px;top:450px;width:3px;height:12px;background:#6d6d6d"></div><div class="r" style="left:548px;top:456px;width:3px;height:6px;background:#2a5b92"></div><div class="r" style="left:550px;top:454px;width:3px;height:8px;background:#2a5b92"></div><div class="r" style="left:549px;top:457px;width:1px;height:4px;background:#4f83bf"></div><div class="r" style="left:551px;top:455px;width:1px;height:6px;background:#4f83bf"></div><div class="r" style="left:553px;top:453px;width:1px;height:8px;background:#b9b9b9"></div><div class="r" style="left:555px;top:451px;width:1px;height:10px;background:#b9b9b9"></div><div class="t num" style="left:618px;width:71px;top:455px;text-align:center;"><span class="b">211.95<i class="h">)</i></span></div><div class="t num" style="left:690px;width:71px;top:455px;text-align:center;"><span class="b">492.90<i class="h">)</i></span></div><div class="t name" style="left:3px;width:300px;top:472px;text-align:left;"><span class="b"><span class="c">大豆<b class="p">(</b>蒲式耳</span><span class="l">)</span></span></div><div class="t num" style="left:114px;width:71px;top:474px;text-align:center;"><span class="b">1430.50<i class="h">)</i></span></div><div class="t num" style="left:186px;width:71px;top:474px;text-align:center;color:#ff0000;"><span class="b">(2.00)</span></div><div class="t num" style="left:258px;width:71px;top:474px;text-align:center;color:#ff0000;"><span class="b">(0.66)</span></div><div class="t num" style="left:330px;width:71px;top:474px;text-align:center;color:#ff0000;"><span class="b">(1.45)</span></div><div class="t num" style="left:402px;width:71px;top:474px;text-align:center;"><span class="b">1.67<i class="h">)</i></span></div><div class="t num" style="left:474px;width:71px;top:474px;text-align:center;"><span class="b">4.82<i class="h">)</i></span></div><div class="t num" style="left:546px;width:71px;top:474px;text-align:center;"><span class="b">65.39%</span></div><div class="r" style="left:554px;top:469px;width:3px;height:12px;background:#6d6d6d"></div><div class="r" style="left:548px;top:475px;width:3px;height:6px;background:#2a5b92"></div><div class="r" style="left:550px;top:473px;width:3px;height:8px;background:#2a5b92"></div><div class="r" style="left:552px;top:471px;width:3px;height:10px;background:#2a5b92"></div><div class="r" style="left:549px;top:476px;width:1px;height:4px;background:#4f83bf"></div><div class="r" style="left:551px;top:474px;width:1px;height:6px;background:#4f83bf"></div><div class="r" style="left:553px;top:472px;width:1px;height:8px;background:#4f83bf"></div><div class="r" style="left:555px;top:470px;width:1px;height:10px;background:#b9b9b9"></div><div class="t num" style="left:618px;width:71px;top:474px;text-align:center;"><span class="b">791.00<i class="h">)</i></span></div><div class="t num" style="left:690px;width:71px;top:474px;text-align:center;"><span class="b">1769.00<i class="h">)</i></span></div><div class="t name" style="left:3px;width:300px;top:491px;text-align:left;"><span class="b"><span class="c">玉米<b class="p">(</b>蒲式耳<b class="p">)</b></span></span></div><div class="t num" style="left:114px;width:71px;top:493px;text-align:center;"><span class="b">653.25<i class="h">)</i></span></div><div class="t num" style="left:186px;width:71px;top:493px;text-align:center;color:#ff0000;"><span class="b">(1.69)</span></div><div class="t num" style="left:258px;width:71px;top:493px;text-align:center;color:#ff0000;"><span class="b">(3.33)</span></div><div class="t num" style="left:330px;width:71px;top:493px;text-align:center;color:#ff0000;"><span class="b">(4.07)</span></div><div class="t num" style="left:402px;width:71px;top:493px;text-align:center;color:#ff0000;"><span class="b">(5.53)</span></div><div class="t num" style="left:474px;width:71px;top:493px;text-align:center;color:#ff0000;"><span class="b">(3.58)</span></div><div class="t num" style="left:546px;width:71px;top:493px;text-align:center;"><span class="b">67.99%</span></div><div class="r" style="left:554px;top:488px;width:3px;height:12px;background:#6d6d6d"></div><div class="r" style="left:548px;top:494px;width:3px;height:6px;background:#2a5b92"></div><div class="r" style="left:550px;top:492px;width:3px;height:8px;background:#2a5b92"></div><div class="r" style="left:552px;top:490px;width:3px;height:10px;background:#2a5b92"></div><div class="r" style="left:549px;top:495px;width:1px;height:4px;background:#4f83bf"></div><div class="r" style="left:551px;top:493px;width:1px;height:6px;background:#4f83bf"></div><div class="r" style="left:553px;top:491px;width:1px;height:8px;background:#4f83bf"></div><div class="r" style="left:555px;top:489px;width:1px;height:10px;background:#b9b9b9"></div><div class="t num" style="left:618px;width:71px;top:493px;text-align:center;"><span class="b">302.75<i class="h">)</i></span></div><div class="t num" style="left:690px;width:71px;top:493px;text-align:center;"><span class="b">818.25<i class="h">)</i></span></div><div class="t name" style="left:3px;width:300px;top:529px;text-align:left;"><span class="b"><span class="c">汇率</span></span></div><div class="t name" style="left:3px;width:300px;top:548px;text-align:left;"><span class="b"><span class="c">美元</span></span></div><div class="t num" style="left:114px;width:71px;top:550px;text-align:center;"><span class="b">108.21<i class="h">)</i></span></div><div class="t num" style="left:186px;width:71px;top:550px;text-align:center;color:#9c0006;"><span class="b">(2.12)</span></div><div class="t num" style="left:258px;width:71px;top:550px;text-align:center;color:#ff0000;"><span class="b">(1.74)</span></div><div class="t num" style="left:330px;width:71px;top:550px;text-align:center;color:#ff0000;"><span class="b">(2.41)</span></div><div class="t num" style="left:402px;width:71px;top:550px;text-align:center;color:#ff0000;"><span class="b">(2.98)</span></div><div class="t num" style="left:474px;width:71px;top:550px;text-align:center;color:#ff0000;"><span class="b">(3.49)</span></div><div class="t num" style="left:546px;width:71px;top:550px;text-align:center;"><span class="b">76.87%</span></div><div class="r" style="left:554px;top:545px;width:3px;height:12px;background:#6d6d6d"></div><div class="r" style="left:548px;top:551px;width:3px;height:6px;background:#2a5b92"></div><div class="r" style="left:550px;top:549px;width:3px;height:8px;background:#2a5b92"></div><div class="r" style="left:552px;top:547px;width:3px;height:10px;background:#2a5b92"></div><div class="r" style="left:549px;top:552px;width:1px;height:4px;background:#4f83bf"></div><div class="r" style="left:551px;top:550px;width:1px;height:6px;background:#4f83bf"></div><div class="r" style="left:553px;top:548px;width:1px;height:8px;background:#4f83bf"></div><div class="r" style="left:555px;top:546px;width:1px;height:10px;background:#b9b9b9"></div><div class="t num" style="left:618px;width:71px;top:550px;text-align:center;"><span class="b">88.59<i class="h">)</i></span></div><div class="t num" style="left:690px;width:71px;top:550px;text-align:center;"><span class="b">114.11<i class="h">)</i></span></div><div class="t name" style="left:3px;width:300px;top:567px;text-align:left;"><span class="b"><span class="c">欧元</span></span></div><div class="t num" style="left:114px;width:71px;top:569px;text-align:center;"><span class="b">1.02<i class="h">)</i></span></div><div class="t num" style="left:186px;width:71px;top:569px;text-align:center;color:#ff0000;"><span class="b">(0.18)</span></div><div class="t num" style="left:258px;width:71px;top:569px;text-align:center;"><span class="b">1.16<i class="h">)</i></span></div><div class="t num" style="left:330px;width:71px;top:569px;text-align:center;"><span class="b">2.35<i class="h">)</i></span></div><div class="t num" style="left:402px;width:71px;top:569px;text-align:center;"><span class="b">3.13<i class="h">)</i></span></div><div class="t num" style="left:474px;width:71px;top:569px;text-align:center;"><span class="b">3.97<i class="h">)</i></span></div><div class="t num" style="left:546px;width:71px;top:569px;text-align:center;"><span class="b">20.47%</span></div><div class="r" style="left:548px;top:570px;width:3px;height:6px;background:#6d6d6d"></div><div class="r" style="left:550px;top:568px;width:3px;height:8px;background:#6d6d6d"></div><div class="r" style="left:552px;top:566px;width:3px;height:10px;background:#6d6d6d"></div><div class="r" style="left:554px;top:564px;width:3px;height:12px;background:#6d6d6d"></div><div class="r" style="left:549px;top:571px;width:1px;height:4px;background:#b9b9b9"></div><div class="r" style="left:551px;top:569px;width:1px;height:6px;background:#b9b9b9"></div><div class="r" style="left:553px;top:567px;width:1px;height:8px;background:#b9b9b9"></div><div class="r" style="left:555px;top:565px;width:1px;height:10px;background:#b9b9b9"></div><div class="t num" style="left:618px;width:71px;top:569px;text-align:center;"><span class="b">0.96<i class="h">)</i></span></div><div class="t num" style="left:690px;width:71px;top:569px;text-align:center;"><span class="b">1.25<i class="h">)</i></span></div><div class="t name" style="left:3px;width:300px;top:586px;text-align:left;"><span class="b"><span class="c">人民币</span><span class="l">(</span><span class="c">离岸</span><span class="l">)</span></span></div><div class="t num" style="left:114px;width:71px;top:588px;text-align:center;"><span class="b">7.16<i class="h">)</i></span></div><div class="t num" style="left:186px;width:71px;top:588px;text-align:center;color:#ff0000;"><span class="b">(0.08)</span></div><div class="t num" style="left:258px;width:71px;top:588px;text-align:center;"><span class="b">1.02<i class="h">)</i></span></div><div class="t num" style="left:330px;width:71px;top:588px;text-align:center;"><span class="b">0.41<i class="h">)</i></span></div><div class="t num" style="left:402px;width:71px;top:588px;text-align:center;"><span class="b">2.50<i class="h">)</i></span></div><div class="t num" style="left:474px;width:71px;top:588px;text-align:center;color:#ff0000;"><span class="b">(0.22)</span></div><div class="t num" style="left:546px;width:71px;top:588px;text-align:center;"><span class="b">82.97%</span></div><div class="r" style="left:548px;top:589px;width:3px;height:6px;background:#2a5b92"></div><div class="r" style="left:550px;top:587px;width:3px;height:8px;background:#2a5b92"></div><div class="r" style="left:552px;top:585px;width:3px;height:10px;background:#2a5b92"></div><div class="r" style="left:554px;top:583px;width:3px;height:12px;background:#2a5b92"></div><div class="r" style="left:549px;top:590px;width:1px;height:4px;background:#4f83bf"></div><div class="r" style="left:551px;top:588px;width:1px;height:6px;background:#4f83bf"></div><div class="r" style="left:553px;top:586px;width:1px;height:8px;background:#4f83bf"></div><div class="r" style="left:555px;top:584px;width:1px;height:10px;background:#4f83bf"></div><div class="t num" style="left:618px;width:71px;top:588px;text-align:center;"><span class="b">6.25<i class="h">)</i></span></div><div class="t num" style="left:690px;width:71px;top:588px;text-align:center;"><span class="b">7.34<i class="h">)</i></span></div><div class="t name" style="left:3px;width:300px;top:605px;text-align:left;"><span class="b"><span class="c">港元</span></span></div><div class="t num" style="left:114px;width:71px;top:607px;text-align:center;"><span class="b">7.84<i class="h">)</i></span></div><div class="t num" style="left:186px;width:71px;top:607px;text-align:center;"><span class="b">0.01<i class="h">)</i></span></div><div class="t num" style="left:258px;width:71px;top:607px;text-align:center;"><span class="b">0.08<i class="h">)</i></span></div><div class="t num" style="left:330px;width:71px;top:607px;text-align:center;"><span class="b">0.08<i class="h">)</i></span></div><div class="t num" style="left:402px;width:71px;top:607px;text-align:center;"><span class="b">0.08<i class="h">)</i></span></div><div class="t num" style="left:474px;width:71px;top:607px;text-align:center;"><span class="b">0.08<i class="h">)</i></span></div><div class="t num" style="left:546px;width:71px;top:607px;text-align:center;"><span class="b">93.71%</span></div><div class="r" style="left:548px;top:608px;width:3px;height:6px;background:#2a5b92"></div><div class="r" style="left:550px;top:606px;width:3px;height:8px;background:#2a5b92"></div><div class="r" style="left:552px;top:604px;width:3px;height:10px;background:#2a5b92"></div><div class="r" style="left:554px;top:602px;width:3px;height:12px;background:#2a5b92"></div><div class="r" style="left:549px;top:609px;width:1px;height:4px;background:#4f83bf"></div><div class="r" style="left:551px;top:607px;width:1px;height:6px;background:#4f83bf"></div><div class="r" style="left:553px;top:605px;width:1px;height:8px;background:#4f83bf"></div><div class="r" style="left:555px;top:603px;width:1px;height:10px;background:#4f83bf"></div><div class="t num" style="left:618px;width:71px;top:607px;text-align:center;"><span class="b">7.75<i class="h">)</i></span></div><div class="t num" style="left:690px;width:71px;top:607px;text-align:center;"><span class="b">7.85<i class="h">)</i></span></div><div class="t name" style="left:3px;width:300px;top:624px;text-align:left;"><span class="b"><span class="c">日元</span></span></div><div class="t num" style="left:114px;width:71px;top:626px;text-align:center;"><span class="b">141.65<i class="h">)</i></span></div><div class="t num" style="left:186px;width:71px;top:626px;text-align:center;color:#ff0000;"><span class="b">(0.47)</span></div><div class="t num" style="left:258px;width:71px;top:626px;text-align:center;"><span class="b">2.85<i class="h">)</i></span></div><div class="t num" style="left:330px;width:71px;top:626px;text-align:center;"><span class="b">3.51<i class="h">)</i></span></div><div class="t num" style="left:402px;width:71px;top:626px;text-align:center;"><span class="b">4.98<i class="h">)</i></span></div><div class="t num" style="left:474px;width:71px;top:626px;text-align:center;"><span class="b">2.18<i class="h">)</i></span></div><div class="t num" style="left:546px;width:71px;top:626px;text-align:center;"><span class="b">82.21%</span></div><div class="r" style="left:548px;top:627px;width:3px;height:6px;background:#2a5b92"></div><div class="r" style="left:550px;top:625px;width:3px;height:8px;background:#2a5b92"></div><div class="r" style="left:552px;top:623px;width:3px;height:10px;background:#2a5b92"></div><div class="r" style="left:554px;top:621px;width:3px;height:12px;background:#2a5b92"></div><div class="r" style="left:549px;top:628px;width:1px;height:4px;background:#4f83bf"></div><div class="r" style="left:551px;top:626px;width:1px;height:6px;background:#4f83bf"></div><div class="r" style="left:553px;top:624px;width:1px;height:8px;background:#4f83bf"></div><div class="r" style="left:555px;top:622px;width:1px;height:10px;background:#4f83bf"></div><div class="t num" style="left:618px;width:71px;top:626px;text-align:center;"><span class="b">102.36<i class="h">)</i></span></div><div class="t num" style="left:690px;width:71px;top:626px;text-align:center;"><span class="b">150.15<i class="h">)</i></span></div><div class="t name" style="left:3px;width:300px;top:643px;text-align:left;"><span class="b"><span class="c">英镑</span></span></div><div class="t num" style="left:114px;width:71px;top:645px;text-align:center;"><span class="b">1.17<i class="h">)</i></span></div><div class="t num" style="left:186px;width:71px;top:645px;text-align:center;color:#ff0000;"><span class="b">(0.21)</span></div><div class="t num" style="left:258px;width:71px;top:645px;text-align:center;"><span class="b">1.27<i class="h">)</i></span></div><div class="t num" style="left:330px;width:71px;top:645px;text-align:center;"><span class="b">2.74<i class="h">)</i></span></div><div class="t num" style="left:402px;width:71px;top:645px;text-align:center;"><span class="b">1.94<i class="h">)</i></span></div><div class="t num" style="left:474px;width:71px;top:645px;text-align:center;"><span class="b">4.66<i class="h">)</i></span></div><div class="t num" style="left:546px;width:71px;top:645px;text-align:center;"><span class="b">27.45%</span></div><div class="r" style="left:550px;top:644px;width:3px;height:8px;background:#6d6d6d"></div><div class="r" style="left:552px;top:642px;width:3px;height:10px;background:#6d6d6d"></div><div class="r" style="left:554px;top:640px;width:3px;height:12px;background:#6d6d6d"></div><div class="r" style="left:548px;top:646px;width:3px;height:6px;background:#2a5b92"></div><div class="r" style="left:549px;top:647px;width:1px;height:4px;background:#4f83bf"></div><div class="r" style="left:551px;top:645px;width:1px;height:6px;background:#b9b9b9"></div><div class="r" style="left:553px;top:643px;width:1px;height:8px;background:#b9b9b9"></div><div class="r" style="left:555px;top:641px;width:1px;height:10px;background:#b9b9b9"></div><div class="t num" style="left:618px;width:71px;top:645px;text-align:center;"><span class="b">1.07<i class="h">)</i></span></div><div class="t num" style="left:690px;width:71px;top:645px;text-align:center;"><span class="b">1.43<i class="h">)</i></span></div><div class="t name" style="left:3px;width:300px;top:681px;text-align:left;"><span class="b"><span class="l">CDS</span><span class="c"><b class="p">(</b>基点<b class="p">)</b></span></span></div><div class="t name" style="left:3px;width:300px;top:700px;text-align:left;"><span class="b"><span class="c">美国投资级</span></span></div><div class="t num" style="left:114px;width:71px;top:702px;text-align:center;"><span class="b">83.17<i class="h">)</i></span></div><div class="t num" style="left:186px;width:71px;top:702px;text-align:center;"><span class="b">0.00<i class="h">)</i></span></div><div class="t num" style="left:258px;width:71px;top:702px;text-align:center;color:#ff0000;"><span class="b">(6.33)</span></div><div class="t num" style="left:330px;width:71px;top:702px;text-align:center;color:#ff0000;"><span class="b">(7.62)</span></div><div class="t num" style="left:402px;width:71px;top:702px;text-align:center;color:#ff0000;"><span class="b">(7.86)</span></div><div class="t num" style="left:474px;width:71px;top:702px;text-align:center;color:#ff0000;"><span class="b">(23.01)</span></div><div class="t num" style="left:546px;width:71px;top:702px;text-align:center;"><span class="b">36.48%</span></div><div class="r" style="left:550px;top:701px;width:3px;height:8px;background:#6d6d6d"></div><div class="r" style="left:552px;top:699px;width:3px;height:10px;background:#6d6d6d"></div><div class="r" style="left:554px;top:697px;width:3px;height:12px;background:#6d6d6d"></div><div class="r" style="left:548px;top:703px;width:3px;height:6px;background:#2a5b92"></div><div class="r" style="left:549px;top:704px;width:1px;height:4px;background:#4f83bf"></div><div class="r" style="left:551px;top:702px;width:1px;height:6px;background:#b9b9b9"></div><div class="r" style="left:553px;top:700px;width:1px;height:8px;background:#b9b9b9"></div><div class="r" style="left:555px;top:698px;width:1px;height:10px;background:#b9b9b9"></div><div class="t num" style="left:618px;width:71px;top:702px;text-align:center;"><span class="b">43.75<i class="h">)</i></span></div><div class="t num" style="left:690px;width:71px;top:702px;text-align:center;"><span class="b">151.80<i class="h">)</i></span></div><div class="t name" style="left:3px;width:300px;top:719px;text-align:left;"><span class="b"><span class="c">美国高收益</span></span></div><div class="t num" style="left:114px;width:71px;top:721px;text-align:center;"><span class="b">486.49<i class="h">)</i></span></div><div class="t num" style="left:186px;width:71px;top:721px;text-align:center;"><span class="b">0.00<i class="h">)</i></span></div><div class="t num" style="left:258px;width:71px;top:721px;text-align:center;color:#ff0000;"><span class="b">(6.43)</span></div><div class="t num" style="left:330px;width:71px;top:721px;text-align:center;color:#ff0000;"><span class="b">(7.03)</span></div><div class="t num" style="left:402px;width:71px;top:721px;text-align:center;color:#ff0000;"><span class="b">(6.54)</span></div><div class="t num" style="left:474px;width:71px;top:721px;text-align:center;color:#ff0000;"><span class="b">(20.21)</span></div><div class="t num" style="left:546px;width:71px;top:721px;text-align:center;"><span class="b">36.12%</span></div><div class="r" style="left:550px;top:720px;width:3px;height:8px;background:#6d6d6d"></div><div class="r" style="left:552px;top:718px;width:3px;height:10px;background:#6d6d6d"></div><div class="r" style="left:554px;top:716px;width:3px;height:12px;background:#6d6d6d"></div><div class="r" style="left:548px;top:722px;width:3px;height:6px;background:#2a5b92"></div><div class="r" style="left:549px;top:723px;width:1px;height:4px;background:#4f83bf"></div><div class="r" style="left:551px;top:721px;width:1px;height:6px;background:#b9b9b9"></div><div class="r" style="left:553px;top:719px;width:1px;height:8px;background:#b9b9b9"></div><div class="r" style="left:555px;top:717px;width:1px;height:10px;background:#b9b9b9"></div><div class="t num" style="left:618px;width:71px;top:721px;text-align:center;"><span class="b">268.97<i class="h">)</i></span></div><div class="t num" style="left:690px;width:71px;top:721px;text-align:center;"><span class="b">871.11<i class="h">)</i></span></div><div class="t name" style="left:3px;width:300px;top:738px;text-align:left;"><span class="b"><span class="c">欧洲投资级</span></span></div><div class="t num" style="left:114px;width:71px;top:740px;text-align:center;"><span class="b">99.29<i class="h">)</i></span></div><div class="t num" style="left:186px;width:71px;top:740px;text-align:center;"><span class="b">0.00<i class="h">)</i></span></div><div class="t num" style="left:258px;width:71px;top:740px;text-align:center;color:#ff0000;"><span class="b">(5.65)</span></div><div class="t num" style="left:330px;width:71px;top:740px;text-align:center;color:#ff0000;"><span class="b">(8.98)</span></div><div class="t num" style="left:402px;width:71px;top:740px;text-align:center;color:#ff0000;"><span class="b">(12.77)</span></div><div class="t num" style="left:474px;width:71px;top:740px;text-align:center;color:#ff0000;"><span class="b">(26.27)</span></div><div class="t num" style="left:546px;width:71px;top:740px;text-align:center;"><span class="b">59.64%</span></div><div class="r" style="left:552px;top:737px;width:3px;height:10px;background:#6d6d6d"></div><div class="r" style="left:554px;top:735px;width:3px;height:12px;background:#6d6d6d"></div><div class="r" style="left:548px;top:741px;width:3px;height:6px;background:#2a5b92"></div><div class="r" style="left:550px;top:739px;width:3px;height:8px;background:#2a5b92"></div><div class="r" style="left:549px;top:742px;width:1px;height:4px;background:#4f83bf"></div><div class="r" style="left:551px;top:740px;width:1px;height:6px;background:#4f83bf"></div><div class="r" style="left:553px;top:738px;width:1px;height:8px;background:#b9b9b9"></div><div class="r" style="left:555px;top:736px;width:1px;height:10px;background:#b9b9b9"></div><div class="t num" style="left:618px;width:71px;top:740px;text-align:center;"><span class="b">41.28<i class="h">)</i></span></div><div class="t num" style="left:690px;width:71px;top:740px;text-align:center;"><span class="b">138.55<i class="h">)</i></span></div><div class="t name" style="left:3px;width:300px;top:757px;text-align:left;"><span class="b"><span class="c">欧洲次投资级</span></span></div><div class="t num" style="left:114px;width:71px;top:759px;text-align:center;"><span class="b">486.72<i class="h">)</i></span></div><div class="t num" style="left:186px;width:71px;top:759px;text-align:center;"><span class="b">0.00<i class="h">)</i></span></div><div class="t num" style="left:258px;width:71px;top:759px;text-align:center;color:#ff0000;"><span class="b">(5.60)</span></div><div class="t num" style="left:330px;width:71px;top:759px;text-align:center;color:#ff0000;"><span class="b">(8.62)</span></div><div class="t num" style="left:402px;width:71px;top:759px;text-align:center;color:#ff0000;"><span class="b">(12.28)</span></div><div class="t num" style="left:474px;width:71px;top:759px;text-align:center;color:#ff0000;"><span class="b">(24.09)</span></div><div class="t num" style="left:546px;width:71px;top:759px;text-align:center;"><span class="b">56.16%</span></div><div class="r" style="left:552px;top:756px;width:3px;height:10px;background:#6d6d6d"></div><div class="r" style="left:554px;top:754px;width:3px;height:12px;background:#6d6d6d"></div><div class="r" style="left:548px;top:760px;width:3px;height:6px;background:#2a5b92"></div><div class="r" style="left:550px;top:758px;width:3px;height:8px;background:#2a5b92"></div><div class="r" style="left:549px;top:761px;width:1px;height:4px;background:#4f83bf"></div><div class="r" style="left:551px;top:759px;width:1px;height:6px;background:#4f83bf"></div><div class="r" style="left:553px;top:757px;width:1px;height:8px;background:#b9b9b9"></div><div class="r" style="left:555px;top:755px;width:1px;height:10px;background:#b9b9b9"></div><div class="t num" style="left:618px;width:71px;top:759px;text-align:center;"><span class="b">203.67<i class="h">)</i></span></div><div class="t num" style="left:690px;width:71px;top:759px;text-align:center;"><span class="b">707.64<i class="h">)</i></span></div><div class="t name" style="left:3px;width:300px;top:776px;text-align:left;"><span class="b"><span class="c">亚洲投资级</span></span></div><div class="t num" style="left:114px;width:71px;top:778px;text-align:center;"><span class="b">184.36<i class="h">)</i></span></div><div class="t num" style="left:186px;width:71px;top:778px;text-align:center;"><span class="b">0.00<i class="h">)</i></span></div><div class="t num" style="left:258px;width:71px;top:778px;text-align:center;color:#ff0000;"><span class="b">(2.39)</span></div><div class="t num" style="left:330px;width:71px;top:778px;text-align:center;color:#ff0000;"><span class="b">(14.28)</span></div><div class="t num" style="left:402px;width:71px;top:778px;text-align:center;color:#ff0000;"><span class="b">(20.75)</span></div><div class="t num" style="left:474px;width:71px;top:778px;text-align:center;color:#ff0000;"><span class="b">(1.21)</span></div><div class="t num" style="left:546px;width:71px;top:778px;text-align:center;"><span class="b">72.92%</span></div><div class="r" style="left:554px;top:773px;width:3px;height:12px;background:#6d6d6d"></div><div class="r" style="left:548px;top:779px;width:3px;height:6px;background:#2a5b92"></div><div class="r" style="left:550px;top:777px;width:3px;height:8px;background:#2a5b92"></div><div class="r" style="left:552px;top:775px;width:3px;height:10px;background:#2a5b92"></div><div class="r" style="left:549px;top:780px;width:1px;height:4px;background:#4f83bf"></div><div class="r" style="left:551px;top:778px;width:1px;height:6px;background:#4f83bf"></div><div class="r" style="left:553px;top:776px;width:1px;height:8px;background:#4f83bf"></div><div class="r" style="left:555px;top:774px;width:1px;height:10px;background:#b9b9b9"></div><div class="t num" style="left:618px;width:71px;top:778px;text-align:center;"><span class="b">47.11<i class="h">)</i></span></div><div class="t num" style="left:690px;width:71px;top:778px;text-align:center;"><span class="b">235.33<i class="h">)</i></span></div><div class="t name" style="left:3px;width:300px;top:814px;text-align:left;"><span class="b"><span class="c">权益市场</span></span></div><div class="t name" style="left:3px;width:300px;top:833px;text-align:left;"><span class="b"><span class="c">恒生指数</span></span></div><div class="t num" style="left:114px;width:71px;top:835px;text-align:center;"><span class="b">16081<i class="h">)</i></span></div><div class="t num" style="left:186px;width:71px;top:835px;text-align:center;color:#ff0000;"><span class="b">(1.70)</span></div><div class="t num" style="left:258px;width:71px;top:835px;text-align:center;color:#ff0000;"><span class="b">(3.10)</span></div><div class="t num" style="left:330px;width:71px;top:835px;text-align:center;color:#ff0000;"><span class="b">(0.50)</span></div><div class="t num" style="left:402px;width:71px;top:835px;text-align:center;"><span class="b">9.49<i class="h">)</i></span></div><div class="t num" style="left:474px;width:71px;top:835px;text-align:center;color:#ff0000;"><span class="b">(6.63)</span></div><div class="t num" style="left:546px;width:71px;top:835px;text-align:center;"><span class="b">7.55%</span></div><div class="r" style="left:548px;top:836px;width:3px;height:6px;background:#6d6d6d"></div><div class="r" style="left:550px;top:834px;width:3px;height:8px;background:#6d6d6d"></div><div class="r" style="left:552px;top:832px;width:3px;height:10px;background:#6d6d6d"></div><div class="r" style="left:554px;top:830px;width:3px;height:12px;background:#6d6d6d"></div><div class="r" style="left:549px;top:837px;width:1px;height:4px;background:#b9b9b9"></div><div class="r" style="left:551px;top:835px;width:1px;height:6px;background:#b9b9b9"></div><div class="r" style="left:553px;top:833px;width:1px;height:8px;background:#b9b9b9"></div><div class="r" style="left:555px;top:831px;width:1px;height:10px;background:#b9b9b9"></div><div class="t num" style="left:618px;width:71px;top:835px;text-align:center;"><span class="b">14687<i class="h">)</i></span></div><div class="t num" style="left:690px;width:71px;top:835px;text-align:center;"><span class="b">33154<i class="h">)</i></span></div><div class="t name" style="left:3px;width:300px;top:852px;text-align:left;"><span class="b"><span class="c">中国</span><span class="l">A50</span></span></div><div class="t num" style="left:114px;width:71px;top:854px;text-align:center;"><span class="b">12152<i class="h">)</i></span></div><div class="t num" style="left:186px;width:71px;top:854px;text-align:center;color:#006100;"><span class="b">2.71<i class="h">)</i></span></div><div class="t num" style="left:258px;width:71px;top:854px;text-align:center;"><span class="b">1.01<i class="h">)</i></span></div><div class="t num" style="left:330px;width:71px;top:854px;text-align:center;"><span class="b">0.58<i class="h">)</i></span></div><div class="t num" style="left:402px;width:71px;top:854px;text-align:center;"><span class="b">8.88<i class="h">)</i></span></div><div class="t num" style="left:474px;width:71px;top:854px;text-align:center;color:#ff0000;"><span class="b">(5.92)</span></div><div class="t num" style="left:546px;width:71px;top:854px;text-align:center;"><span class="b">18.74%</span></div><div class="r" style="left:548px;top:855px;width:3px;height:6px;background:#6d6d6d"></div><div class="r" style="left:550px;top:853px;width:3px;height:8px;background:#6d6d6d"></div><div class="r" style="left:552px;top:851px;width:3px;height:10px;background:#6d6d6d"></div><div class="r" style="left:554px;top:849px;width:3px;height:12px;background:#6d6d6d"></div><div class="r" style="left:549px;top:856px;width:1px;height:4px;background:#b9b9b9"></div><div class="r" style="left:551px;top:854px;width:1px;height:6px;background:#b9b9b9"></div><div class="r" style="left:553px;top:852px;width:1px;height:8px;background:#b9b9b9"></div><div class="r" style="left:555px;top:850px;width:1px;height:10px;background:#b9b9b9"></div><div class="t num" style="left:618px;width:71px;top:854px;text-align:center;"><span class="b">10225<i class="h">)</i></span></div><div class="t num" style="left:690px;width:71px;top:854px;text-align:center;"><span class="b">20508<i class="h">)</i></span></div><div class="t name" style="left:3px;width:300px;top:871px;text-align:left;"><span class="b"><span class="c">日经</span><span class="l">225</span></span></div><div class="t num" style="left:114px;width:71px;top:873px;text-align:center;"><span class="b">27446<i class="h">)</i></span></div><div class="t num" style="left:186px;width:71px;top:873px;text-align:center;color:#ff0000;"><span class="b">(0.98)</span></div><div class="t num" style="left:258px;width:71px;top:873px;text-align:center;color:#ff0000;"><span class="b">(1.53)</span></div><div class="t num" style="left:330px;width:71px;top:873px;text-align:center;"><span class="b">0.91<i class="h">)</i></span></div><div class="t num" style="left:402px;width:71px;top:873px;text-align:center;color:#ff0000;"><span class="b">(0.51)</span></div><div class="t num" style="left:474px;width:71px;top:873px;text-align:center;"><span class="b">5.82<i class="h">)</i></span></div><div class="t num" style="left:546px;width:71px;top:873px;text-align:center;"><span class="b">77.16%</span></div><div class="r" style="left:554px;top:868px;width:3px;height:12px;background:#6d6d6d"></div><div class="r" style="left:548px;top:874px;width:3px;height:6px;background:#2a5b92"></div><div class="r" style="left:550px;top:872px;width:3px;height:8px;background:#2a5b92"></div><div class="r" style="left:552px;top:870px;width:3px;height:10px;background:#2a5b92"></div><div class="r" style="left:549px;top:875px;width:1px;height:4px;background:#4f83bf"></div><div class="r" style="left:551px;top:873px;width:1px;height:6px;background:#4f83bf"></div><div class="r" style="left:553px;top:871px;width:1px;height:8px;background:#4f83bf"></div><div class="r" style="left:555px;top:869px;width:1px;height:10px;background:#b9b9b9"></div><div class="t num" style="left:618px;width:71px;top:873px;text-align:center;"><span class="b">16553<i class="h">)</i></span></div><div class="t num" style="left:690px;width:71px;top:873px;text-align:center;"><span class="b">30670<i class="h">)</i></span></div><div class="t name" style="left:3px;width:300px;top:890px;text-align:left;"><span class="b"><span class="c">标普</span><span class="l">500</span></span></div><div class="t num" style="left:114px;width:71px;top:892px;text-align:center;"><span class="b">3956<i class="h">)</i></span></div><div class="t num" style="left:186px;width:71px;top:892px;text-align:center;color:#006100;"><span class="b">5.54<i class="h">)</i></span></div><div class="t num" style="left:258px;width:71px;top:892px;text-align:center;"><span class="b">3.93<i class="h">)</i></span></div><div class="t num" style="left:330px;width:71px;top:892px;text-align:center;"><span class="b">4.93<i class="h">)</i></span></div><div class="t num" style="left:402px;width:71px;top:892px;text-align:center;"><span class="b">2.18<i class="h">)</i></span></div><div class="t num" style="left:474px;width:71px;top:892px;text-align:center;"><span class="b">10.34<i class="h">)</i></span></div><div class="t num" style="left:546px;width:71px;top:892px;text-align:center;"><span class="b">67.17%</span></div><div class="r" style="left:554px;top:887px;width:3px;height:12px;background:#6d6d6d"></div><div class="r" style="left:548px;top:893px;width:3px;height:6px;background:#2a5b92"></div><div class="r" style="left:550px;top:891px;width:3px;height:8px;background:#2a5b92"></div><div class="r" style="left:552px;top:889px;width:3px;height:10px;background:#2a5b92"></div><div class="r" style="left:549px;top:894px;width:1px;height:4px;background:#4f83bf"></div><div class="r" style="left:551px;top:892px;width:1px;height:6px;background:#4f83bf"></div><div class="r" style="left:553px;top:890px;width:1px;height:8px;background:#4f83bf"></div><div class="r" style="left:555px;top:888px;width:1px;height:10px;background:#b9b9b9"></div><div class="t num" style="left:618px;width:71px;top:892px;text-align:center;"><span class="b">2237<i class="h">)</i></span></div><div class="t num" style="left:690px;width:71px;top:892px;text-align:center;"><span class="b">4797<i class="h">)</i></span></div><div class="t name" style="left:3px;width:300px;top:909px;text-align:left;"><span class="b"><span class="c">道琼斯指数</span></span></div><div class="t num" style="left:114px;width:71px;top:911px;text-align:center;"><span class="b">33715<i class="h">)</i></span></div><div class="t num" style="left:186px;width:71px;top:911px;text-align:center;color:#006100;"><span class="b">3.70<i class="h">)</i></span></div><div class="t num" style="left:258px;width:71px;top:911px;text-align:center;"><span class="b">2.71<i class="h">)</i></span></div><div class="t num" style="left:330px;width:71px;top:911px;text-align:center;"><span class="b">4.05<i class="h">)</i></span></div><div class="t num" style="left:402px;width:71px;top:911px;text-align:center;"><span class="b">3.00<i class="h">)</i></span></div><div class="t num" style="left:474px;width:71px;top:911px;text-align:center;"><span class="b">17.37<i class="h">)</i></span></div><div class="t num" style="left:546px;width:71px;top:911px;text-align:center;"><span class="b">83.06%</span></div><div class="r" style="left:548px;top:912px;width:3px;height:6px;background:#2a5b92"></div><div class="r" style="left:550px;top:910px;width:3px;height:8px;background:#2a5b92"></div><div class="r" style="left:552px;top:908px;width:3px;height:10px;background:#2a5b92"></div><div class="r" style="left:554px;top:906px;width:3px;height:12px;background:#2a5b92"></div><div class="r" style="left:549px;top:913px;width:1px;height:4px;background:#4f83bf"></div><div class="r" style="left:551px;top:911px;width:1px;height:6px;background:#4f83bf"></div><div class="r" style="left:553px;top:909px;width:1px;height:8px;background:#4f83bf"></div><div class="r" style="left:555px;top:907px;width:1px;height:10px;background:#4f83bf"></div><div class="t num" style="left:618px;width:71px;top:911px;text-align:center;"><span class="b">18592<i class="h">)</i></span></div><div class="t num" style="left:690px;width:71px;top:911px;text-align:center;"><span class="b">36800<i class="h">)</i></span></div><div class="t name" style="left:3px;width:300px;top:928px;text-align:left;"><span class="b"><span class="c">纳斯达克指数</span></span></div><div class="t num" style="left:114px;width:71px;top:930px;text-align:center;"><span class="b">11114<i class="h">)</i></span></div><div class="t num" style="left:186px;width:71px;top:930px;text-align:center;color:#006100;"><span class="b">7.35<i class="h">)</i></span></div><div class="t num" style="left:258px;width:71px;top:930px;text-align:center;"><span class="b">5.20<i class="h">)</i></span></div><div class="t num" style="left:330px;width:71px;top:930px;text-align:center;"><span class="b">6.10<i class="h">)</i></span></div><div class="t num" style="left:402px;width:71px;top:930px;text-align:center;"><span class="b">1.15<i class="h">)</i></span></div><div class="t num" style="left:474px;width:71px;top:930px;text-align:center;"><span class="b">5.09<i class="h">)</i></span></div><div class="t num" style="left:546px;width:71px;top:930px;text-align:center;"><span class="b">49.89%</span></div><div class="r" style="left:552px;top:927px;width:3px;height:10px;background:#6d6d6d"></div><div class="r" style="left:554px;top:925px;width:3px;height:12px;background:#6d6d6d"></div><div class="r" style="left:548px;top:931px;width:3px;height:6px;background:#2a5b92"></div><div class="r" style="left:550px;top:929px;width:3px;height:8px;background:#2a5b92"></div><div class="r" style="left:549px;top:932px;width:1px;height:4px;background:#4f83bf"></div><div class="r" style="left:551px;top:930px;width:1px;height:6px;background:#4f83bf"></div><div class="r" style="left:553px;top:928px;width:1px;height:8px;background:#b9b9b9"></div><div class="r" style="left:555px;top:926px;width:1px;height:10px;background:#b9b9b9"></div><div class="t num" style="left:618px;width:71px;top:930px;text-align:center;"><span class="b">6193<i class="h">)</i></span></div><div class="t num" style="left:690px;width:71px;top:930px;text-align:center;"><span class="b">16057<i class="h">)</i></span></div><div class="t name" style="left:3px;width:300px;top:947px;text-align:left;"><span class="b"><span class="l">VIX </span><span class="c">指数</span></span></div><div class="t num" style="left:114px;width:71px;top:949px;text-align:center;"><span class="b">24<i class="h">)</i></span></div><div class="t num" style="left:186px;width:71px;top:949px;text-align:center;color:#9c0006;"><span class="b">(9.81)</span></div><div class="t num" style="left:258px;width:71px;top:949px;text-align:center;color:#ff0000;"><span class="b">(3.37)</span></div><div class="t num" style="left:330px;width:71px;top:949px;text-align:center;color:#ff0000;"><span class="b">(4.15)</span></div><div class="t num" style="left:402px;width:71px;top:949px;text-align:center;color:#ff0000;"><span class="b">(9.08)</span></div><div class="t num" style="left:474px;width:71px;top:949px;text-align:center;color:#ff0000;"><span class="b">(25.59)</span></div><div class="t num" style="left:546px;width:71px;top:949px;text-align:center;"><span class="b">19.55%</span></div><div class="r" style="left:548px;top:950px;width:3px;height:6px;background:#6d6d6d"></div><div class="r" style="left:550px;top:948px;width:3px;height:8px;background:#6d6d6d"></div><div class="r" style="left:552px;top:946px;width:3px;height:10px;background:#6d6d6d"></div><div class="r" style="left:554px;top:944px;width:3px;height:12px;background:#6d6d6d"></div><div class="r" style="left:549px;top:951px;width:1px;height:4px;background:#b9b9b9"></div><div class="r" style="left:551px;top:949px;width:1px;height:6px;background:#b9b9b9"></div><div class="r" style="left:553px;top:947px;width:1px;height:8px;background:#b9b9b9"></div><div class="r" style="left:555px;top:945px;width:1px;height:10px;background:#b9b9b9"></div><div class="t num" style="left:618px;width:71px;top:949px;text-align:center;"><span class="b">9<i class="h">)</i></span></div><div class="t num" style="left:690px;width:71px;top:949px;text-align:center;"><span class="b">83<i class="h">)</i></span></div><div class="t name" style="left:3px;width:300px;top:966px;text-align:left;"><span class="b"><span class="c">欧洲</span><span class="l">Stoxx600</span></span></div><div class="t num" style="left:114px;width:71px;top:968px;text-align:center;"><span class="b">432<i class="h">)</i></span></div><div class="t num" style="left:186px;width:71px;top:968px;text-align:center;color:#006100;"><span class="b">2.75<i class="h">)</i></span></div><div class="t num" style="left:258px;width:71px;top:968px;text-align:center;"><span class="b">3.24<i class="h">)</i></span></div><div class="t num" style="left:330px;width:71px;top:968px;text-align:center;"><span class="b">3.58<i class="h">)</i></span></div><div class="t num" style="left:402px;width:71px;top:968px;text-align:center;"><span class="b">4.78<i class="h">)</i></span></div><div class="t num" style="left:474px;width:71px;top:968px;text-align:center;"><span class="b">11.35<i class="h">)</i></span></div><div class="t num" style="left:546px;width:71px;top:968px;text-align:center;"><span class="b">70.91%</span></div><div class="r" style="left:554px;top:963px;width:3px;height:12px;background:#6d6d6d"></div><div class="r" style="left:548px;top:969px;width:3px;height:6px;background:#2a5b92"></div><div class="r" style="left:550px;top:967px;width:3px;height:8px;background:#2a5b92"></div><div class="r" style="left:552px;top:965px;width:3px;height:10px;background:#2a5b92"></div><div class="r" style="left:549px;top:970px;width:1px;height:4px;background:#4f83bf"></div><div class="r" style="left:551px;top:968px;width:1px;height:6px;background:#4f83bf"></div><div class="r" style="left:553px;top:966px;width:1px;height:8px;background:#4f83bf"></div><div class="r" style="left:555px;top:964px;width:1px;height:10px;background:#b9b9b9"></div><div class="t num" style="left:618px;width:71px;top:968px;text-align:center;"><span class="b">280<i class="h">)</i></span></div><div class="t num" style="left:690px;width:71px;top:968px;text-align:center;"><span class="b">494<i class="h">)</i></span></div><div class="t name" style="left:3px;width:300px;top:985px;text-align:left;"><span class="b"><span class="l">MSCI </span><span class="c">全球回报指数</span></span></div><div class="t num" style="left:114px;width:71px;top:987px;text-align:center;"><span class="b">2637<i class="h">)</i></span></div><div class="t num" style="left:186px;width:71px;top:987px;text-align:center;color:#006100;"><span class="b">5.05<i class="h">)</i></span></div><div class="t num" style="left:258px;width:71px;top:987px;text-align:center;"><span class="b">3.20<i class="h">)</i></span></div><div class="t num" style="left:330px;width:71px;top:987px;text-align:center;"><span class="b">5.16<i class="h">)</i></span></div><div class="t num" style="left:402px;width:71px;top:987px;text-align:center;"><span class="b">3.49<i class="h">)</i></span></div><div class="t num" style="left:474px;width:71px;top:987px;text-align:center;"><span class="b">10.84<i class="h">)</i></span></div><div class="t num" style="left:546px;width:71px;top:987px;text-align:center;"><span class="b">62.85%</span></div><div class="r" style="left:554px;top:982px;width:3px;height:12px;background:#6d6d6d"></div><div class="r" style="left:548px;top:988px;width:3px;height:6px;background:#2a5b92"></div><div class="r" style="left:550px;top:986px;width:3px;height:8px;background:#2a5b92"></div><div class="r" style="left:552px;top:984px;width:3px;height:10px;background:#2a5b92"></div><div class="r" style="left:549px;top:989px;width:1px;height:4px;background:#4f83bf"></div><div class="r" style="left:551px;top:987px;width:1px;height:6px;background:#4f83bf"></div><div class="r" style="left:553px;top:985px;width:1px;height:8px;background:#4f83bf"></div><div class="r" style="left:555px;top:983px;width:1px;height:10px;background:#b9b9b9"></div><div class="t num" style="left:618px;width:71px;top:987px;text-align:center;"><span class="b">1602<i class="h">)</i></span></div><div class="t num" style="left:690px;width:71px;top:987px;text-align:center;"><span class="b">3248<i class="h">)</i></span></div><div class="t name" style="left:3px;width:300px;top:1004px;text-align:left;"><span class="b"><span class="l">MSCI </span><span class="c">新兴市场指数</span></span></div><div class="t num" style="left:114px;width:71px;top:1006px;text-align:center;"><span class="b">37<i class="h">)</i></span></div><div class="t num" style="left:186px;width:71px;top:1006px;text-align:center;color:#006100;"><span class="b">3.63<i class="h">)</i></span></div><div class="t num" style="left:258px;width:71px;top:1006px;text-align:center;"><span class="b">2.57<i class="h">)</i></span></div><div class="t num" style="left:330px;width:71px;top:1006px;text-align:center;"><span class="b">2.62<i class="h">)</i></span></div><div class="t num" style="left:402px;width:71px;top:1006px;text-align:center;"><span class="b">8.66<i class="h">)</i></span></div><div class="t num" style="left:474px;width:71px;top:1006px;text-align:center;"><span class="b">6.51<i class="h">)</i></span></div><div class="t num" style="left:546px;width:71px;top:1006px;text-align:center;"><span class="b">23.91%</span></div><div class="r" style="left:548px;top:1007px;width:3px;height:6px;background:#6d6d6d"></div><div class="r" style="left:550px;top:1005px;width:3px;height:8px;background:#6d6d6d"></div><div class="r" style="left:552px;top:1003px;width:3px;height:10px;background:#6d6d6d"></div><div class="r" style="left:554px;top:1001px;width:3px;height:12px;background:#6d6d6d"></div><div class="r" style="left:549px;top:1008px;width:1px;height:4px;background:#b9b9b9"></div><div class="r" style="left:551px;top:1006px;width:1px;height:6px;background:#b9b9b9"></div><div class="r" style="left:553px;top:1004px;width:1px;height:8px;background:#b9b9b9"></div><div class="r" style="left:555px;top:1002px;width:1px;height:10px;background:#b9b9b9"></div><div class="t num" style="left:618px;width:71px;top:1006px;text-align:center;"><span class="b">31<i class="h">)</i></span></div><div class="t num" style="left:690px;width:71px;top:1006px;text-align:center;"><span class="b">58<i class="h">)</i></span></div>
</body></html>
